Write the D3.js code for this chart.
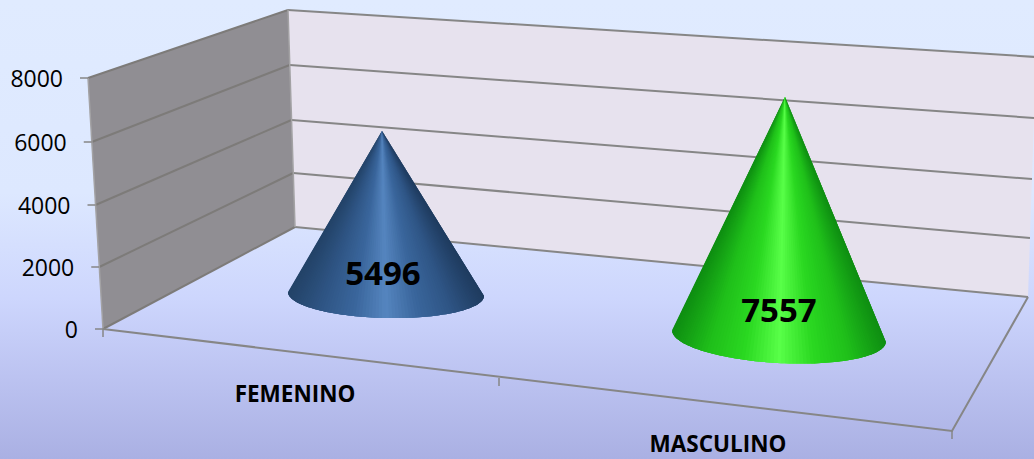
<!DOCTYPE html>
<meta charset="utf-8">
<style>
  html, body { margin: 0; padding: 0; }
  svg { display: block; }
  text { font-family: "Open Sans", sans-serif; fill: #000; }
</style>
<script src="https://d3js.org/d3.v7.min.js"></script>
<svg id="chart" width="1034" height="459"></svg>
<script>

// Chart data
var categories = ["FEMENINO", "MASCULINO"];
var values = [5496, 7557];
var yTicks = [0, 2000, 4000, 6000, 8000];

var svg = d3.select("#chart");
var defs = svg.append("defs");

// Background
var bg = defs.append("linearGradient").attr("id", "bg")
  .attr("x1", 0).attr("x2", 0).attr("y1", 0).attr("y2", 1);
[[0, "#e0ebff"], [0.42, "#dde8ff"], [0.65, "#cdd6fd"], [0.82, "#bcc3f1"], [1, "#aab0e3"]].forEach(function (s) {
  bg.append("stop").attr("offset", s[0]).attr("stop-color", s[1]);
});
svg.append("rect").attr("width", 1034).attr("height", 459).attr("fill", "url(#bg)");

// The three vertical edges of the 3D box: value -> pixel
var yExtent = [0, 8000];
var frontX = d3.scaleLinear().domain(yExtent).range([103, 88]);
var frontY = d3.scaleLinear().domain(yTicks).range([329, 267, 205, 142, 78]);
var backX = d3.scaleLinear().domain(yExtent).range([295, 288]);
var backY = d3.scaleLinear().domain(yTicks).range([227, 173, 120, 65, 10]);
var rightX = d3.scaleLinear().domain(yExtent).range([1028, 1036]);
var rightY = d3.scaleLinear().domain(yTicks).range([297, 238, 179, 118, 57]);

// Front edge of the floor, category position -> pixel
var catX = d3.scaleLinear().domain([0, 1, 2]).range([103, 499, 952]);
var catY = d3.scaleLinear().domain([0, 1, 2]).range([329, 378, 431]);

var line = d3.line();
var lineColor = "#868686";
var sideLineColor = "#7d7b79";

function corner(xs, ys, v) { return [xs(v), ys(v)]; }

// Walls
svg.append("path")
  .attr("d", line([corner(frontX, frontY, 0), corner(frontX, frontY, 8000), corner(backX, backY, 8000), corner(backX, backY, 0)]) + "Z")
  .attr("fill", "#908e93");
svg.append("path")
  .attr("d", line([corner(backX, backY, 0), corner(backX, backY, 8000), corner(rightX, rightY, 8000), corner(rightX, rightY, 0)]) + "Z")
  .attr("fill", "#e7e2ee");

function stroke(points, w, c) {
  svg.append("path")
    .attr("d", line(points))
    .attr("fill", "none")
    .attr("stroke", c || lineColor)
    .attr("stroke-width", w);
}

// Gridlines
yTicks.forEach(function (t) {
  stroke([corner(frontX, frontY, t), corner(backX, backY, t)], 2, sideLineColor);
  stroke([corner(backX, backY, t), corner(rightX, rightY, t)], 2);
});

// Wall edges and floor outline
stroke([corner(frontX, frontY, 0), corner(frontX, frontY, 8000)], 1.5, "#a3a2a4");
stroke([corner(backX, backY, 0), corner(backX, backY, 8000)], 1.5, "#a3a2a4");
stroke([corner(rightX, rightY, 0), [catX(2), catY(2)], [catX(0), catY(0)]], 2);

// Y axis ticks and labels
yTicks.forEach(function (t) {
  var x = frontX(t), y = frontY(t);
  stroke([[x - 8, y], [x, y]], 1.5);
  svg.append("text")
    .attr("x", x - 25)
    .attr("y", y + 9)
    .attr("text-anchor", "end")
    .attr("font-size", 23)
    .text(d3.format("d")(t));
});

// X axis ticks
[0, 1, 2].forEach(function (i) {
  var x = catX(i), y = catY(i);
  stroke([[x, y], [x, y + 8]], 1.5);
});

// Cones: each one is a fan of facets from the apex to the front of its base ellipse
var coneColors = [
  ["#234368", "#2f5585", "#3a669c", "#5585bf", "#3a669c", "#2f5585", "#1f3c60"],
  ["#0f8f12", "#1fbf1a", "#2ad821", "#58ff48", "#2ad821", "#1fbf1a", "#0f8f12"]
];
var coneBase = [
  { cx: 386, cy: 294, rx: 98, ry: 24, tilt: 1.2, apexX: 382, topY: 131 },
  { cx: 779, cy: 336, rx: 107, ry: 27, tilt: 3.2, apexX: 785, topY: 97 }
];
var facets = 90;
var shade = d3.range(7).map(function (i) { return i / 6; });

categories.forEach(function (name, i) {
  var b = coneBase[i];
  // height scale for this cone's depth, fixed through its apex
  var h = d3.scaleLinear().domain([0, values[i]]).range([b.cy, b.topY]);
  var apex = [b.apexX, h(values[i])];
  var color = d3.scaleLinear().domain(shade).range(coneColors[i]);
  var tilt = b.tilt * Math.PI / 180;
  var g = svg.append("g");

  function rim(t) {
    var a = Math.PI * (1 - t);
    var u = b.rx * Math.cos(a), v = b.ry * Math.sin(a);
    return [b.cx + u * Math.cos(tilt) - v * Math.sin(tilt), b.cy + u * Math.sin(tilt) + v * Math.cos(tilt)];
  }

  // each facet runs on under the next one, so no seams show between them
  g.selectAll("path")
    .data(d3.range(facets))
    .enter()
    .append("path")
    .attr("d", function (d) {
      var last = Math.min(d + 3, facets);
      var pts = [apex];
      d3.range(d, last + 1).forEach(function (k) { pts.push(rim(k / facets)); });
      return line(pts) + "Z";
    })
    .attr("fill", function (d) {
      // facet position across the projected width, not the angle
      var mid = rim((d + 0.5) / facets);
      return color((mid[0] - rim(0)[0]) / (rim(1)[0] - rim(0)[0]));
    });
});

// Value labels
var valueLabelPos = [[383, 285], [779, 322]];
values.forEach(function (v, i) {
  svg.append("text")
    .attr("x", valueLabelPos[i][0])
    .attr("y", valueLabelPos[i][1])
    .attr("text-anchor", "middle")
    .attr("font-size", 33)
    .attr("font-weight", 700)
    .text(v);
});

// Category labels
var catLabelPos = [[295, 402], [718, 452]];
categories.forEach(function (c, i) {
  svg.append("text")
    .attr("x", catLabelPos[i][0])
    .attr("y", catLabelPos[i][1])
    .attr("text-anchor", "middle")
    .attr("font-size", 22.5)
    .attr("font-weight", 700)
    .text(c);
});

</script>
